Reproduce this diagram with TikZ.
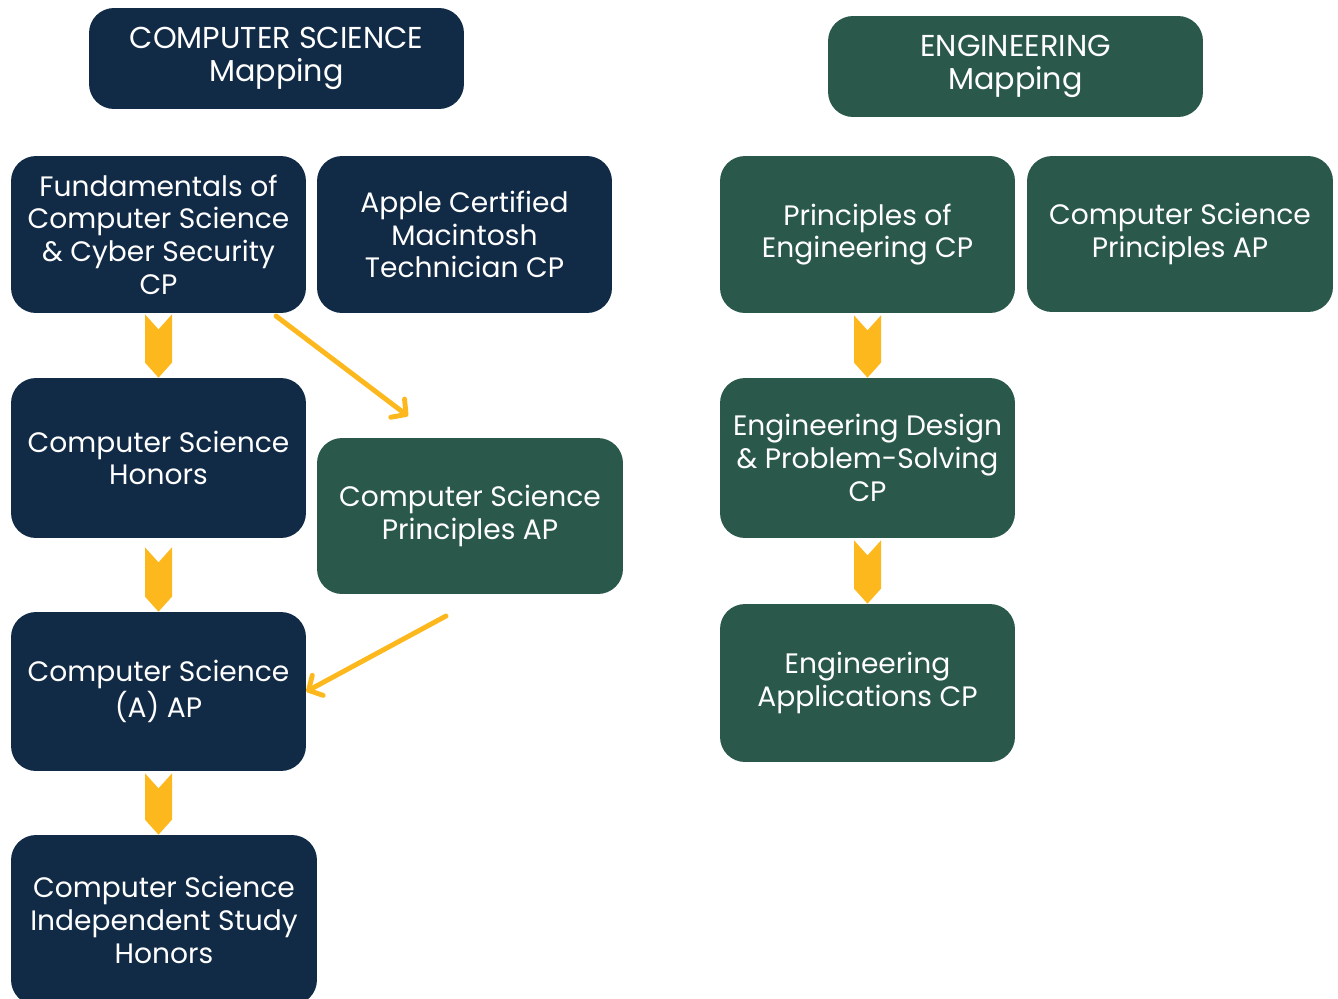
\documentclass[tikz,border=0pt]{standalone}
\usepackage{fontspec}
\setmainfont{Poppins}
\usetikzlibrary{calc,arrows.meta}

\definecolor{navy}{HTML}{112A46}
\definecolor{pine}{HTML}{2A584A}
\definecolor{gold}{HTML}{FDB81E}

% chevron between two boxes: from, to, gap below the upper box
\newcommand{\chev}[3]{%
  \fill[gold] ($(#1.south)+(-13.5,#3)$) -- ($(#1.south)+(0,{#3+15})$) -- ($(#1.south)+(13.5,#3)$)
    -- ($(#1.south |- #2.north)+(13.5,-15)$) -- (#1.south |- #2.north) -- ($(#1.south |- #2.north)+(-13.5,-15)$) -- cycle;}

\begin{document}
\begin{tikzpicture}[
    x=0.02cm, y=-0.02cm,
    box/.style={rectangle, rounded corners=0.5cm, text=white, align=center, inner sep=0pt,
        minimum width=5.9cm, minimum height=3.14cm, font=\fontsize{16}{18.6}\selectfont},
    cs/.style={box, fill=navy},
    eng/.style={box, fill=pine},
    title/.style={minimum width=7.5cm, minimum height=2.02cm, font=\fontsize{17.2}{18.6}\selectfont},
    link/.style={draw=gold, line width=2.8pt, line cap=round, -{Straight Barb[length=6pt,width=13pt,round]}}
]
\useasboundingbox (0,0) rectangle (1338,998);

% Headers
\node[cs, title] (csmap) at (276.5,58.5) {COMPUTER SCIENCE\\Mapping};
\node[eng, title] (engmap) at (1015.5,66.5) {ENGINEERING\\Mapping};

% Computer science column
\node[cs] (fund) at (158.5,234.5) {Fundamentals of\\Computer Science\\\& Cyber Security\\CP};
\node[cs] (apple) at (464.5,234.5) {Apple Certified\\Macintosh\\Technician CP};
\node[cs, minimum height=3.2cm] (cshon) at (158.5,458) {Computer Science\\Honors};
\node[eng, minimum width=6.12cm, minimum height=3.12cm] (cspl) at (470,516) {Computer Science\\Principles AP};
\node[cs, minimum height=3.18cm] (csa) at (158.5,691.5) {Computer Science\\(A) AP};
\node[cs, minimum width=6.12cm, minimum height=3.4cm] (csind) at (164,920) {Computer Science\\Independent Study\\Honors};

% Engineering column
\node[eng] (poe) at (867.5,234.5) {Principles of\\Engineering CP};
\node[eng, minimum width=6.12cm, minimum height=3.12cm] (cspr) at (1180,234) {Computer Science\\Principles AP};
\node[eng, minimum height=3.2cm] (edps) at (867.5,458) {Engineering Design\\\& Problem-Solving\\CP};
\node[eng, minimum height=3.16cm] (eapp) at (867.5,683) {Engineering\\Applications CP};

% Chevrons
\chev{fund}{cshon}{1}
\chev{cshon}{csa}{9}
\chev{csa}{csind}{2}
\chev{poe}{edps}{2}
\chev{edps}{eapp}{2}

% Side links
\coordinate (fundout) at (276,316);
\coordinate (csplin) at (408,416);
\coordinate (csplout) at (446,616);
\draw[link] (fundout) -- (csplin);
\draw[link] (csplout) -- (csa.east);

\end{tikzpicture}
\end{document}
